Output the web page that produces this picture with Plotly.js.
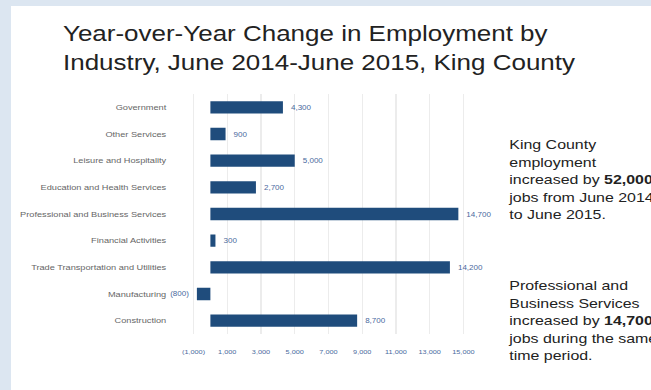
<!DOCTYPE html>
<html>
<head>
<meta charset="utf-8">
<script src="https://cdn.plot.ly/plotly-3.0.1.min.js"></script>
<style>
html,body{margin:0;padding:0;background:#dce6f1;width:651px;height:390px;overflow:hidden;}
#wrap{position:absolute;left:11px;top:6px;width:640px;height:384px;background:#fff;overflow:hidden;}
#chart{position:absolute;left:0;top:0;width:542px;height:384px;transform:scaleX(1.1808);transform-origin:0 0;}
</style>
</head>
<body>
<div id="wrap"><div id="chart"></div></div>
<script>
const categories = ["Government","Other Services","Leisure and Hospitality","Education and Health Services","Professional and Business Services","Financial Activities","Trade Transportation and Utilities","Manufacturing","Construction"];
const changes = [4300, 900, 5000, 2700, 14700, 300, 14200, -800, 8700];
const tickValues = [-1000, 1000, 3000, 5000, 7000, 9000, 11000, 13000, 15000];

function fmt(v){
  const s = Math.abs(v).toLocaleString('en-US');
  return v < 0 ? '(' + s + ')' : s;
}
const barText = changes.map(v => v < 0 ? fmt(v) + '\u00a0\u00a0' : '\u00a0\u00a0' + fmt(v));

const S = 1.1808;
const W = 542;
const plotL = (172 - 11) / S, plotR = (490 - 11) / S;
const px = p => ((p - 11) / S - plotL) / (plotR - plotL);

const trace = {
  type: 'bar',
  orientation: 'h',
  y: categories,
  x: changes,
  text: barText,
  textposition: 'outside',
  cliponaxis: false,
  textfont: {family: 'Liberation Sans, Arial, sans-serif', size: 6.8, color: '#4a6a9e'},
  marker: {color: '#1f4c7c'},
  width: 0.46,
  hoverinfo: 'x+y'
};

const layout = {
  width: W, height: 384,
  paper_bgcolor: '#ffffff', plot_bgcolor: '#ffffff',
  margin: {l: Math.round(plotL), r: Math.round(W - plotR), t: 88, b: 56},
  showlegend: false,
  title: {
    text: 'Year-over-Year Change in Employment by<br>Industry, June 2014-June 2015, King County',
    x: ((63 - 11) / S) / W, xanchor: 'left', xref: 'container',
    y: 1 - 35/384, yanchor: 'top', yref: 'container',
    font: {family: 'Liberation Sans, Arial, sans-serif', size: 22, color: '#222222'}
  },
  xaxis: {
    range: [-2300, 16600],
    tickvals: tickValues,
    ticktext: tickValues.map(fmt),
    showgrid: true, gridcolor: '#ececec', gridwidth: 1,
    zeroline: false, showline: false,
    ticks: 'outside', ticklen: 12, tickcolor: 'rgba(0,0,0,0)',
    tickfont: {family: 'Liberation Sans, Arial, sans-serif', size: 6.2, color: '#4a6a9e'},
    fixedrange: true
  },
  yaxis: {
    autorange: 'reversed',
    showgrid: false, zeroline: false, showline: false,
    ticks: 'outside', ticklen: 2, tickcolor: 'rgba(0,0,0,0)',
    tickfont: {family: 'Liberation Sans, Arial, sans-serif', size: 7.8, color: '#666666'},
    fixedrange: true
  },
  annotations: [
    {
      xref: 'paper', yref: 'paper', x: px(505), y: 1 - (135-6-88)/240,
      xanchor: 'left', yanchor: 'top', align: 'left', showarrow: false,
      text: 'King County<br>employment<br>increased by <b>52,000</b><br>jobs from June 2014<br>to June 2015.',
      font: {family: 'Liberation Sans, Arial, sans-serif', size: 13.5, color: '#222222'}
    },
    {
      xref: 'paper', yref: 'paper', x: px(505), y: 1 - (276-6-88)/240,
      xanchor: 'left', yanchor: 'top', align: 'left', showarrow: false,
      text: 'Professional and<br>Business Services<br>increased by <b>14,700</b><br>jobs during the same<br>time period.',
      font: {family: 'Liberation Sans, Arial, sans-serif', size: 13.5, color: '#222222'}
    }
  ]
};

Plotly.newPlot('chart', [trace], layout, {displayModeBar: false, staticPlot: true});
</script>
</body>
</html>
